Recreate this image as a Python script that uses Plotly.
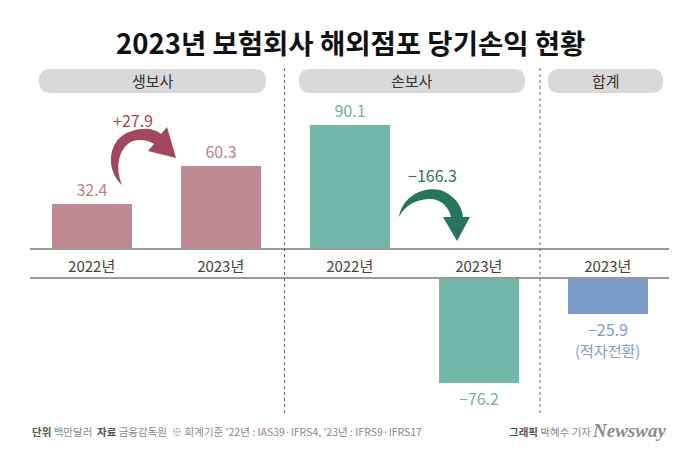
import plotly.graph_objects as go

# ---------------- data ----------------
title_text = "2023년 보험회사 해외점포 당기손익 현황"
groups = ["생보사", "손보사", "합계"]
life_values = [32.4, 60.3]          # 생보사 2022, 2023
nonlife_values = [90.1, -76.2]      # 손보사 2022, 2023
total_values = [-25.9]              # 합계 2023
year_labels = ["2022년", "2023년", "2022년", "2023년", "2023년"]
total_note = "(적자전환)"
footer_left = ("<b><span style='color:#555'>단위</span></b> 백만달러  "
               "<b><span style='color:#555'>자료</span></b> 금융감독원  "
               "※ 회계기준 '22년 : IAS39·IFRS4, '23년 : IFRS9·IFRS17")
footer_right = "<b><span style='color:#555'>그래픽</span></b> 박혜수 기자"
logo_text = "Newsway"

# ---------------- styles ----------------
W, H = 700, 450
FONT = "Noto Sans CJK KR"
bar_colors = ["#c08893", "#72b7a8", "#7b9cc8"]
label_colors = ["#c27f8f", "#6cb4a3", "#7d9fcf"]
arrow_colors = ["#a3475f", "#28745f"]


def X(px):
    return px / W


def Y(py):
    return 1 - py / H


def fmt(v):
    s = f"{abs(v):.1f}"
    return ("−" + s) if v < 0 else s


def fmt_change(v):
    s = f"{abs(v):.1f}"
    return ("−" + s) if v < 0 else ("+" + s)


values_all = life_values + nonlife_values + total_values
group_of = [0, 0, 1, 1, 2]
xpos = list(range(len(values_all)))
texts = [fmt(v) for v in values_all]

fig = go.Figure()

# bars: positives on upper axis, negatives on lower axis
for g in range(len(groups)):
    for sign, (xa, ya) in ((1, ("x", "y")), (-1, ("x2", "y2"))):
        idx = [i for i in xpos if group_of[i] == g and (values_all[i] >= 0) == (sign > 0)]
        if not idx:
            continue
        fig.add_trace(go.Bar(
            x=[xpos[i] for i in idx],
            y=[values_all[i] for i in idx],
            text=[texts[i] for i in idx],
            textposition="outside",
            textfont=dict(family=FONT, size=16, color=label_colors[g]),
            marker=dict(color=bar_colors[g], line=dict(width=0)),
            width=0.62,
            cliponaxis=False,
            xaxis=xa, yaxis=ya,
            hoverinfo="skip",
            showlegend=False,
        ))

# axes geometry
x_dom = [X(30), X(669)]
x_rng = [-0.478, 4.475]
fig.update_layout(
    width=W, height=H,
    margin=dict(l=0, r=0, t=0, b=0),
    paper_bgcolor="white", plot_bgcolor="rgba(0,0,0,0)",
    bargap=0,
    xaxis=dict(domain=x_dom, range=x_rng, anchor="y",
               tickvals=xpos, ticktext=year_labels,
               tickfont=dict(family=FONT, size=15, color="#444"),
               ticks="", ticklabelstandoff=4,
               showline=True, linecolor="#9a9a9a", linewidth=1.5,
               showgrid=False, zeroline=False, fixedrange=True),
    yaxis=dict(domain=[Y(248), Y(100)], range=[0, 148 / 1.365],
               visible=False, fixedrange=True),
    xaxis2=dict(domain=x_dom, range=x_rng, anchor="y2", side="top",
                showticklabels=False, ticks="",
                showline=True, linecolor="#9a9a9a", linewidth=1.5,
                showgrid=False, zeroline=False, fixedrange=True),
    yaxis2=dict(domain=[Y(400), Y(279)], range=[-121 / 1.36, 0],
                visible=False, fixedrange=True),
)

shapes = []


def rounded(x0, y0, x1, y1, r):
    pts = [
        f"M {X(x0 + r)},{Y(y0)}",
        f"L {X(x1 - r)},{Y(y0)}",
        f"Q {X(x1)},{Y(y0)} {X(x1)},{Y(y0 + r)}",
        f"L {X(x1)},{Y(y1 - r)}",
        f"Q {X(x1)},{Y(y1)} {X(x1 - r)},{Y(y1)}",
        f"L {X(x0 + r)},{Y(y1)}",
        f"Q {X(x0)},{Y(y1)} {X(x0)},{Y(y1 - r)}",
        f"L {X(x0)},{Y(y0 + r)}",
        f"Q {X(x0)},{Y(y0)} {X(x0 + r)},{Y(y0)}",
        "Z",
    ]
    return " ".join(pts)


pills = [(39, 266), (299, 525), (548, 663)]
for (a, b), name in zip(pills, groups):
    shapes.append(dict(type="path", xref="paper", yref="paper",
                       path=rounded(a, 69, b, 93, 11.5),
                       fillcolor="#d9d9d9", line=dict(width=0), layer="below"))

# dashed separators
for sx in (284.5, 540):
    shapes.append(dict(type="line", xref="paper", yref="paper",
                       x0=X(sx), x1=X(sx), y0=Y(68), y1=Y(414),
                       line=dict(color="#666", width=1, dash="dot")))


def path_px(cmds):
    out = []
    for c in cmds:
        if isinstance(c, str):
            out.append(c)
        else:
            out.append(f"{X(c[0])},{Y(c[1])}")
    return " ".join(out)


# curved arrow 1 (생보사 increase)
arrow1 = path_px([
    "M", (122, 185),
    "C", (105, 170), (107, 138), (132, 131),
    "C", (145, 127), (155, 129), (161, 134),
    "L", (167, 127), "L", (176, 158), "L", (148, 151), "L", (154, 144),
    "C", (148, 140), (140, 139), (133, 141),
    "C", (120, 146), (114, 165), (122, 185), "Z",
])
shapes.append(dict(type="path", xref="paper", yref="paper", path=arrow1,
                   fillcolor=arrow_colors[0], line=dict(width=0)))

# curved arrow 2 (손보사 decrease)
arrow2 = path_px([
    "M", (399, 217),
    "C", (402, 196), (424, 186), (440, 190),
    "C", (453, 194), (462, 205), (463, 217),
    "L", (470, 217), "L", (457, 241), "L", (443, 217), "L", (451, 217),
    "C", (449, 207), (441, 199), (430, 199),
    "C", (417, 199), (405, 205), (399, 217), "Z",
])
shapes.append(dict(type="path", xref="paper", yref="paper", path=arrow2,
                   fillcolor=arrow_colors[1], line=dict(width=0)))

fig.update_layout(shapes=shapes)

ann = []
ann.append(dict(text=f"<b>{title_text}</b>", x=X(350), y=Y(42), xref="paper", yref="paper",
                showarrow=False, xanchor="center", yanchor="middle",
                font=dict(family=FONT, size=27.5, color="#111")))
for (a, b), name in zip(pills, groups):
    ann.append(dict(text=name, x=X((a + b) / 2), y=Y(81), xref="paper", yref="paper",
                    showarrow=False, xanchor="center", yanchor="middle",
                    font=dict(family=FONT, size=15, color="#333")))

# note under total bar, tied to its value
ann.append(dict(text=total_note, x=xpos[-1], y=values_all[-1], xref="x2", yref="y2",
                showarrow=False, xanchor="center", yanchor="top", yshift=-24,
                font=dict(family=FONT, size=15, color=label_colors[2])))

life_change = life_values[1] - life_values[0]
nonlife_change = nonlife_values[1] - nonlife_values[0]
ann.append(dict(text=fmt_change(life_change), x=X(133), y=Y(120), xref="paper", yref="paper",
                showarrow=False, xanchor="center", yanchor="middle",
                font=dict(family=FONT, size=16, color=arrow_colors[0])))
ann.append(dict(text=fmt_change(nonlife_change), x=X(432), y=Y(175), xref="paper", yref="paper",
                showarrow=False, xanchor="center", yanchor="middle",
                font=dict(family=FONT, size=16, color=arrow_colors[1])))

ann.append(dict(text=footer_left, x=X(30), y=Y(431), xref="paper", yref="paper",
                showarrow=False, xanchor="left", yanchor="middle",
                font=dict(family=FONT, size=10.5, color="#8a8a8a")))
ann.append(dict(text=footer_right, x=X(593), y=Y(431), xref="paper", yref="paper",
                showarrow=False, xanchor="right", yanchor="middle",
                font=dict(family=FONT, size=10.5, color="#8a8a8a")))
ann.append(dict(text=logo_text, x=X(668), y=Y(430), xref="paper", yref="paper",
                showarrow=False, xanchor="right", yanchor="middle",
                font=dict(family="Liberation Serif", size=19, color="#8c8c8c",
                          style="italic", weight="bold")))
fig.update_layout(annotations=ann)

fig.write_html("out.html")
